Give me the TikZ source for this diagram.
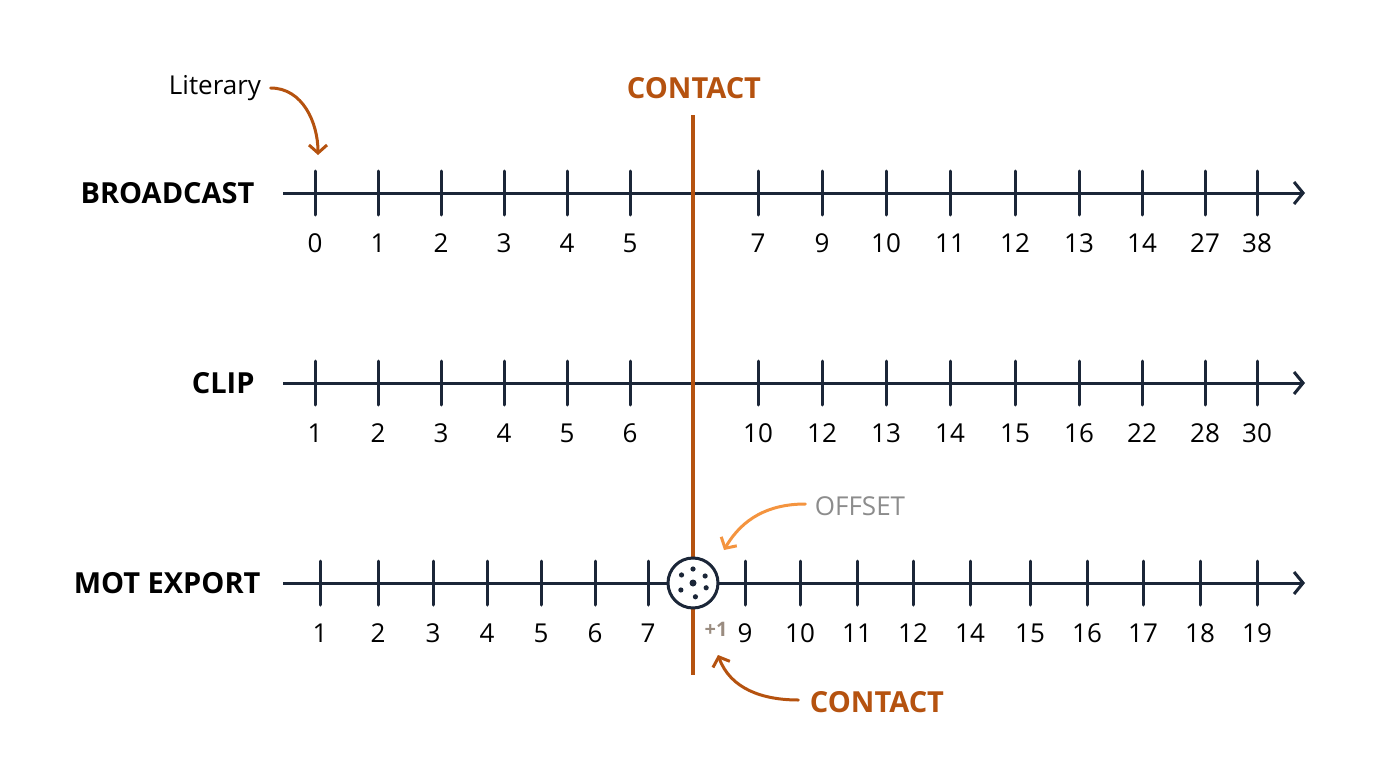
\documentclass[tikz,border=0pt]{standalone}
\usepackage{fontspec}
\setmainfont{Open Sans}
\usetikzlibrary{arrows.meta}
\definecolor{ink}{HTML}{1B2638}
\definecolor{rust}{HTML}{B5520F}
\definecolor{peach}{HTML}{F4943F}
\definecolor{mute}{HTML}{8C8C8C}
\definecolor{taupe}{HTML}{9A8C80}
\tikzset{
  axis/.style={ink,line width=3pt,-{Straight Barb[length=9pt,width=22pt,line width=3pt]}},
  tick/.style={ink,line width=3pt,line cap=round},
  num/.style={font=\fontsize{26}{26}\selectfont},
  lab/.style={font=\fontsize{29}{29}\selectfont\bfseries,anchor=east},
  callout/.style={line width=3pt,line cap=round,-{Straight Barb[length=8pt,width=18pt,line width=3pt]}}
}

\begin{document}
\begin{tikzpicture}[x=1pt,y=-1pt]
            \useasboundingbox (0,0) rectangle (1376,768);

            % rows
            \node[lab] (bc) at (258,193) {BROADCAST};
            \node[lab] (cl) at (258,383) {CLIP};
            \node[lab] (mot) at (264,583) {MOT EXPORT};
            \coordinate (bcs) at (283,193); \coordinate (bce) at (1305,193);
            \coordinate (cls) at (283,383); \coordinate (cle) at (1305,383);
            \coordinate (mots) at (283,583); \coordinate (mote) at (1305,583);
            \draw[axis] (bcs) -- (bce);
            \draw[axis] (cls) -- (cle);
            \draw[axis] (mots) -- (mote);

            \foreach \x/\a/\b in {315/0/1,378/1/2,441/2/3,504/3/4,567/4/5,630/5/6,
                758/7/10,822/9/12,886/10/13,950/11/14,1015/12/15,1079/13/16,1142/14/22,1205/27/28,1257/38/30}{
                \draw[tick] (\x,171) -- (\x,215);
                \node[num] at (\x,243) {\a};
                \draw[tick] (\x,361) -- (\x,405);
                \node[num] at (\x,433) {\b};
            }
            \foreach \x/\c in {320/1,378/2,433/3,487/4,541/5,595/6,648/7,
                745/9,800/10,857/11,913/12,970/14,1030/15,1087/16,1143/17,1200/18,1257/19}{
                \draw[tick] (\x,561) -- (\x,605);
                \node[num] at (\x,633) {\c};
            }

            % contact line
            \node[rust,font=\fontsize{29}{29}\selectfont\bfseries] (ct) at (694,88) {CONTACT};
            \coordinate (ctt) at (693,115); \coordinate (ctb) at (693,675);
            \draw[rust,line width=4pt] (ctt) -- (ctb);

            % ball
            \node[circle,draw=ink,line width=3pt,fill=white,minimum size=50pt,inner sep=0pt] (ball) at (693,583) {};
            \fill[ink] (ball.center) circle (3.5pt);
            \foreach \t in {20,80,150,215,270,330}
                \fill[ink] (ball.center) ++(\t:14) circle (2.6pt);

            % callouts
            \node[font=\fontsize{26}{26}\selectfont] (lit) at (215,88) {Literary};
            \coordinate (litend) at (318,155);
            \draw[callout,rust] (lit.east) ++(6,0) to[out=0,in=90] (litend);

            \node[mute,font=\fontsize{26}{26}\selectfont] (off) at (860,506) {OFFSET};
            \coordinate (offend) at (724,550);
            \draw[callout,peach] (off.west) ++(-6,-2) to[out=180,in=60] (offend);

            \node[taupe,font=\fontsize{20}{20}\selectfont\bfseries] (plus) at (716,629) {+1};

            \node[rust,font=\fontsize{29}{29}\selectfont\bfseries] (cb) at (877,702) {CONTACT};
            \coordinate (cbend) at (718,655);
            \draw[callout,rust] (cb.west) ++(-8,-2) to[out=180,in=-70] (cbend);
\end{tikzpicture}
\end{document}
